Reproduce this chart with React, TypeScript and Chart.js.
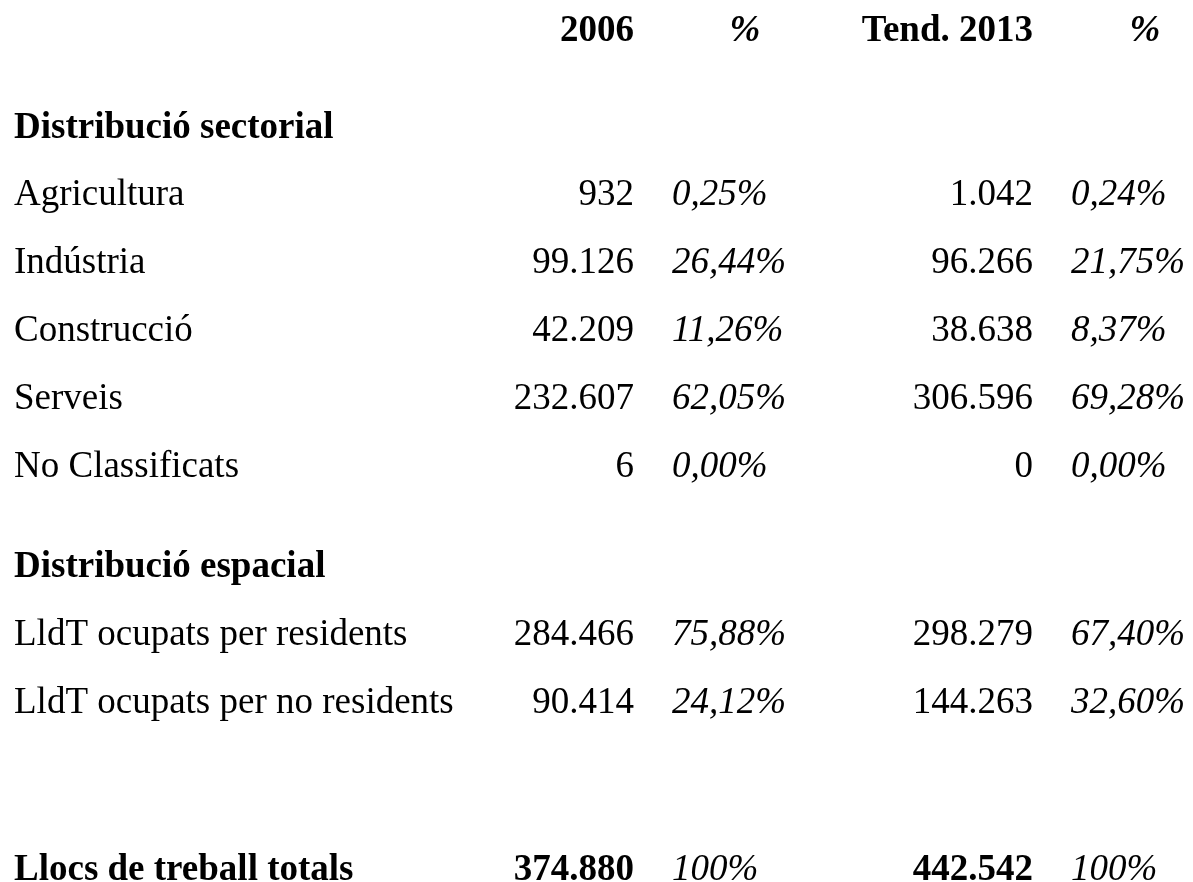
import React, { useEffect, useRef } from "react";
import { Chart, registerables } from "chart.js";

Chart.register(...registerables);

// ---- Data ----
const headerLabels = ["2006", "%", "Tend. 2013", "%"];
const sectionSectorial = "Distribució sectorial";
const sectorialLabels = ["Agricultura", "Indústria", "Construcció", "Serveis", "No Classificats"];
const sectorial2006 = [932, 99126, 42209, 232607, 6];
const sectorialPct2006 = [0.25, 26.44, 11.26, 62.05, 0.0];
const sectorial2013 = [1042, 96266, 38638, 306596, 0];
const sectorialPct2013 = [0.24, 21.75, 8.37, 69.28, 0.0];

const sectionEspacial = "Distribució espacial";
const espacialLabels = ["LldT ocupats per residents", "LldT ocupats per no residents"];
const espacial2006 = [284466, 90414];
const espacialPct2006 = [75.88, 24.12];
const espacial2013 = [298279, 144263];
const espacialPct2013 = [67.4, 32.6];

const totalLabel = "Llocs de treball totals";
const total2006 = 374880;
const total2013 = 442542;
const totalPct = ["100%", "100%"];

// ---- Layout (scale units) ----
const W = 1193;
const H = 882;
const colAnchors = [14, 634, 672, 1033, 1071];
const pctHeaderAnchors = [745, 1145];
const rowBaselines = [41, 138, 205, 273, 341, 409, 477, 577, 645, 713, 880];

const FAMILY = '"Liberation Serif", "Times New Roman", serif';
const SIZE = 37;
const fNormal = `${SIZE}px ${FAMILY}`;
const fBold = `bold ${SIZE}px ${FAMILY}`;
const fItalic = `italic ${SIZE}px ${FAMILY}`;
const fBoldItalic = `italic bold ${SIZE}px ${FAMILY}`;

const fmtInt = (n: number) => String(n).replace(/\B(?=(\d{3})+(?!\d))/g, ".");
const fmtPct = (v: number) => v.toFixed(2).replace(".", ",") + "%";

type Cell = { x: number; y: number; text: string; font: string; align: CanvasTextAlign };

function buildCells(): Cell[] {
  const cells: Cell[] = [];
  // header
  cells.push({ x: colAnchors[1], y: rowBaselines[0], text: headerLabels[0], font: fBold, align: "right" });
  cells.push({ x: pctHeaderAnchors[0], y: rowBaselines[0], text: headerLabels[1], font: fBoldItalic, align: "center" });
  cells.push({ x: colAnchors[3], y: rowBaselines[0], text: headerLabels[2], font: fBold, align: "right" });
  cells.push({ x: pctHeaderAnchors[1], y: rowBaselines[0], text: headerLabels[3], font: fBoldItalic, align: "center" });
  // section sectorial
  cells.push({ x: colAnchors[0], y: rowBaselines[1], text: sectionSectorial, font: fBold, align: "left" });
  sectorialLabels.forEach((lab, i) => {
    const y = rowBaselines[2 + i];
    cells.push({ x: colAnchors[0], y, text: lab, font: fNormal, align: "left" });
    cells.push({ x: colAnchors[1], y, text: fmtInt(sectorial2006[i]), font: fNormal, align: "right" });
    cells.push({ x: colAnchors[2], y, text: fmtPct(sectorialPct2006[i]), font: fItalic, align: "left" });
    cells.push({ x: colAnchors[3], y, text: fmtInt(sectorial2013[i]), font: fNormal, align: "right" });
    cells.push({ x: colAnchors[4], y, text: fmtPct(sectorialPct2013[i]), font: fItalic, align: "left" });
  });
  // section espacial
  cells.push({ x: colAnchors[0], y: rowBaselines[7], text: sectionEspacial, font: fBold, align: "left" });
  espacialLabels.forEach((lab, i) => {
    const y = rowBaselines[8 + i];
    cells.push({ x: colAnchors[0], y, text: lab, font: fNormal, align: "left" });
    cells.push({ x: colAnchors[1], y, text: fmtInt(espacial2006[i]), font: fNormal, align: "right" });
    cells.push({ x: colAnchors[2], y, text: fmtPct(espacialPct2006[i]), font: fItalic, align: "left" });
    cells.push({ x: colAnchors[3], y, text: fmtInt(espacial2013[i]), font: fNormal, align: "right" });
    cells.push({ x: colAnchors[4], y, text: fmtPct(espacialPct2013[i]), font: fItalic, align: "left" });
  });
  // totals
  const yt = rowBaselines[10];
  cells.push({ x: colAnchors[0], y: yt, text: totalLabel, font: fBold, align: "left" });
  cells.push({ x: colAnchors[1], y: yt, text: fmtInt(total2006), font: fBold, align: "right" });
  cells.push({ x: colAnchors[2], y: yt, text: totalPct[0], font: fItalic, align: "left" });
  cells.push({ x: colAnchors[3], y: yt, text: fmtInt(total2013), font: fBold, align: "right" });
  cells.push({ x: colAnchors[4], y: yt, text: totalPct[1], font: fItalic, align: "left" });
  return cells;
}

const tablePlugin = {
  id: "tableText",
  afterDraw(chart: any) {
    const ctx: CanvasRenderingContext2D = chart.ctx;
    const xs = chart.scales.x;
    const ys = chart.scales.y;
    ctx.save();
    ctx.fillStyle = "#000";
    ctx.textBaseline = "alphabetic";
    for (const c of buildCells()) {
      ctx.font = c.font;
      ctx.textAlign = c.align;
      ctx.fillText(c.text, xs.getPixelForValue(c.x), ys.getPixelForValue(c.y));
    }
    ctx.restore();
  },
};

export default function App() {
  const ref = useRef<HTMLCanvasElement | null>(null);
  useEffect(() => {
    if (!ref.current) return;
    const chart = new Chart(ref.current, {
      type: "scatter",
      data: { datasets: [{ data: [], pointRadius: 0 }] },
      options: {
        animation: false,
        responsive: false,
        maintainAspectRatio: false,
        devicePixelRatio: 1,
        layout: { padding: 0 },
        plugins: { legend: { display: false }, tooltip: { enabled: false }, title: { display: false } },
        scales: {
          x: { type: "linear", min: 0, max: W, display: false },
          y: { type: "linear", min: 0, max: H, reverse: true, display: false },
        },
      },
      plugins: [tablePlugin],
    });
    return () => chart.destroy();
  }, []);
  return (
    <div style={{ position: "absolute", left: 0, top: 0, width: W, height: H, background: "#fff" }}>
      <canvas ref={ref} width={W} height={H} style={{ display: "block" }} />
    </div>
  );
}
